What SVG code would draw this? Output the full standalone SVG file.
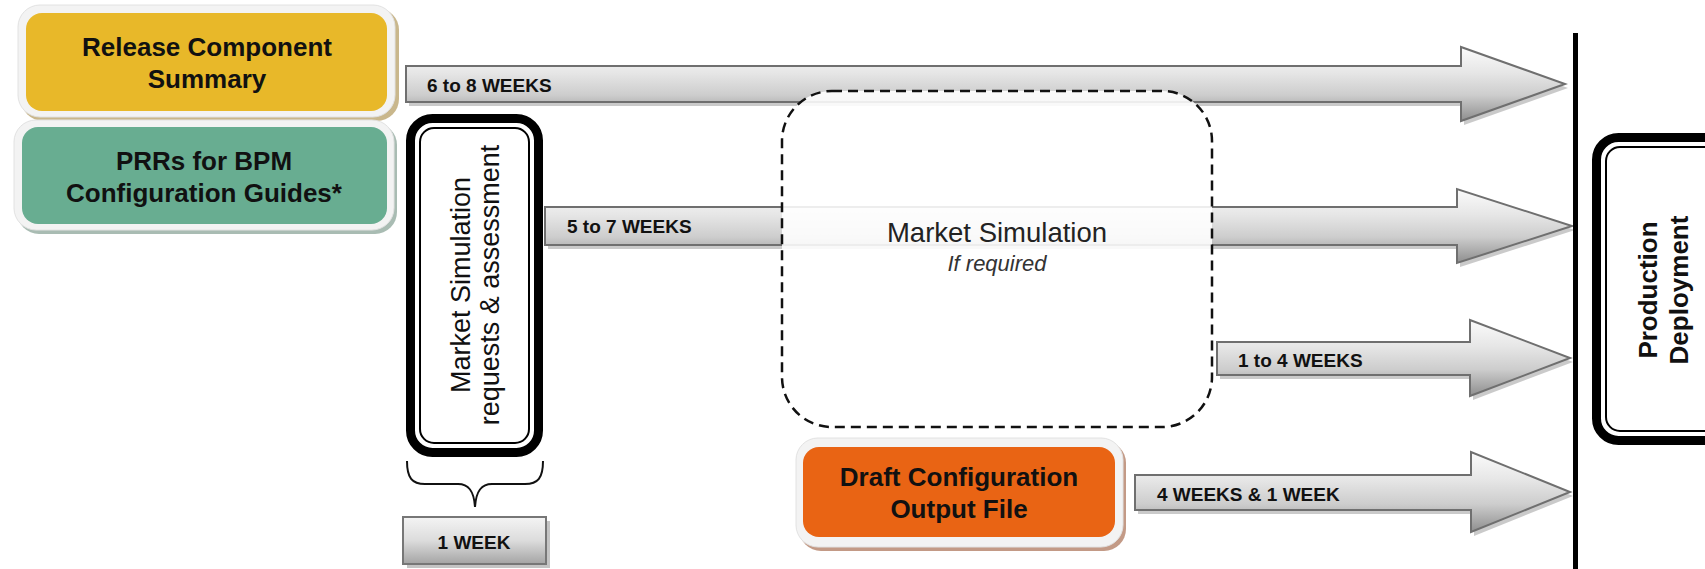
<svg xmlns="http://www.w3.org/2000/svg" width="1705" height="569" viewBox="0 0 1705 569">
<defs>
<linearGradient id="gArrow" x1="0" y1="0" x2="0" y2="1">
<stop offset="0" stop-color="#fbfbfb"/>
<stop offset="0.35" stop-color="#e6e6e6"/>
<stop offset="0.65" stop-color="#cdcdcd"/>
<stop offset="1" stop-color="#8e8e8e"/>
</linearGradient>
<linearGradient id="gBox" x1="0" y1="0" x2="0" y2="1">
<stop offset="0" stop-color="#f4f4f4"/>
<stop offset="0.5" stop-color="#dcdcdc"/>
<stop offset="1" stop-color="#a4a4a4"/>
</linearGradient>
<style>
.arrow{fill:url(#gArrow);stroke:#6f6f6f;stroke-width:2;stroke-linejoin:miter}
.shadow{fill:#bdbdbd;opacity:0.8}
.lbl{font-family:"Liberation Sans",Arial,sans-serif;font-weight:bold;font-size:19px;fill:#111}
.node{font-family:"Liberation Sans",Arial,sans-serif;font-weight:bold;font-size:26px;fill:#111;text-anchor:middle}
.vtext{font-family:"Liberation Sans",Arial,sans-serif;font-size:27px;fill:#111;text-anchor:middle}
.frame{fill:#f3f3f3;stroke:#e2e2e2;stroke-width:1}
</style>
</defs>
<rect width="1705" height="569" fill="#ffffff"/>

<g id="connectors">
<g id="arrow-6to8">
<polygon class="shadow" points="409,70 1464,70 1464,51 1568,88 1464,125 1464,106 409,106"/>
<polygon class="arrow" points="406,66 1461,66 1461,47 1565,84 1461,121 1461,102 406,102"/>
<text class="lbl" x="427" y="92">6 to 8 WEEKS</text>
</g>
<g id="arrow-5to7">
<polygon class="shadow" points="548,211 1460,211 1460,193 1575,230 1460,267 1460,249 548,249"/>
<polygon class="arrow" points="545,207 1457,207 1457,189 1572,226 1457,263 1457,245 545,245"/>
<text class="lbl" x="567" y="233">5 to 7 WEEKS</text>
</g>
<g id="arrow-1to4">
<polygon class="shadow" points="1220,346 1473,346 1473,324 1573,362 1473,400 1473,379 1220,379"/>
<polygon class="arrow" points="1217,342 1470,342 1470,320 1570,358 1470,396 1470,375 1217,375"/>
<text class="lbl" x="1238" y="367">1 to 4 WEEKS</text>
</g>
<g id="arrow-4weeks">
<polygon class="shadow" points="1138,479 1474,479 1474,456 1573,496 1474,536 1474,514 1138,514"/>
<polygon class="arrow" points="1135,475 1471,475 1471,452 1570,492 1471,532 1471,510 1135,510"/>
<text class="lbl" x="1157" y="501">4 WEEKS &amp; 1 WEEK</text>
</g>
<path id="brace" d="M407,461 C407,478 412,484 425,484 L458,484 C468,484 474,490 475,507 C476,490 482,484 492,484 L525,484 C538,484 543,478 543,461" fill="none" stroke="#111" stroke-width="2"/>
<line id="deadline" x1="1575.5" y1="33" x2="1575.5" y2="569" stroke="#000" stroke-width="5"/>
</g>

<g id="market-simulation">
<rect x="782" y="91" width="430" height="336" rx="50" ry="50" fill="#ffffff" fill-opacity="0.88" stroke="#111" stroke-width="2.5" stroke-dasharray="10 6"/>
<text x="997" y="242" font-family="'Liberation Sans',Arial,sans-serif" font-size="27.5" fill="#222" text-anchor="middle">Market Simulation</text>
<text x="997" y="271" font-family="'Liberation Sans',Arial,sans-serif" font-size="22" font-style="italic" fill="#333" text-anchor="middle">If required</text>
</g>

<g id="release-component-summary">
<rect x="21" y="8" width="378" height="113" rx="22" fill="#c9b78c"/>
<rect class="frame" x="18" y="5" width="377" height="112" rx="22"/>
<rect x="26" y="13" width="361" height="98" rx="16" fill="#e8b829"/>
<text class="node" x="207" y="56" font-size="27">Release Component</text>
<text class="node" x="207" y="88" font-size="27">Summary</text>
</g>

<g id="prrs-bpm">
<rect x="17" y="123" width="380" height="111" rx="22" fill="#a9bcb3"/>
<rect class="frame" x="14" y="120" width="380" height="110" rx="22"/>
<rect x="22" y="127" width="365" height="97" rx="16" fill="#68ad91"/>
<text class="node" x="204" y="170">PRRs for BPM</text>
<text class="node" x="204" y="202">Configuration Guides*</text>
</g>

<g id="market-sim-requests">
<rect x="410.5" y="118.5" width="128" height="334" rx="22" fill="#ffffff" stroke="#000" stroke-width="9"/>
<rect x="420" y="128" width="109" height="315" rx="14" fill="none" stroke="#000" stroke-width="2"/>
<text class="vtext" transform="translate(470,285) rotate(-90)" x="0" y="0">Market Simulation</text>
<text class="vtext" transform="translate(499,285) rotate(-90)" x="0" y="0">requests &amp; assessment</text>
</g>

<g id="one-week">
<rect x="407" y="521" width="143" height="47" fill="#c4c4c4"/>
<rect x="403" y="517" width="143" height="47" fill="url(#gBox)" stroke="#777" stroke-width="2"/>
<text class="lbl" x="474" y="549" text-anchor="middle">1 WEEK</text>
</g>

<g id="draft-configuration">
<rect x="799" y="441" width="327" height="110" rx="22" fill="#c39a86"/>
<rect class="frame" x="796" y="438" width="327" height="109" rx="22"/>
<rect x="803" y="447" width="312" height="90" rx="16" fill="#e96414"/>
<text class="node" x="959" y="486">Draft Configuration</text>
<text class="node" x="959" y="518">Output File</text>
</g>

<g id="production-deployment">
<rect x="1596.5" y="137.5" width="200" height="303" rx="22" fill="#ffffff" stroke="#000" stroke-width="9"/>
<rect x="1606" y="147" width="200" height="284" rx="14" fill="none" stroke="#000" stroke-width="2"/>
<text class="node" transform="translate(1657,290) rotate(-90)" x="0" y="0">Production</text>
<text class="node" transform="translate(1688,290) rotate(-90)" x="0" y="0">Deployment</text>
</g>
</svg>
